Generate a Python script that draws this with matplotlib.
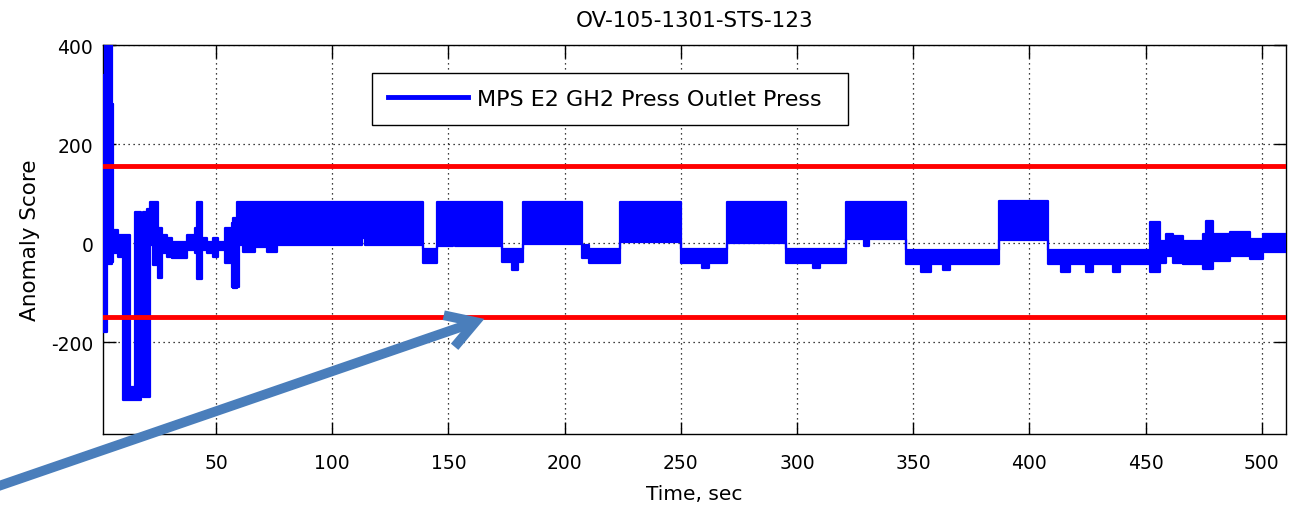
import matplotlib
matplotlib.use("Agg")
import matplotlib.pyplot as plt
from matplotlib.lines import Line2D
from matplotlib.patches import FancyArrowPatch

# ---------------- data ----------------
title = "OV-105-1301-STS-123"
series_name = "MPS E2 GH2 Press Outlet Press"

# start time of each step segment of the anomaly-score envelope
seg_t = [1.4, 2.2, 3.3, 5.1, 5.6, 8.0, 10.1, 13.0, 15.2, 17.6, 18.7, 20.2,
         21.6, 23.0, 25.2, 26.6, 28.8, 30.9, 37.4, 41.0, 41.7, 43.9, 46.0,
         48.8, 51.0, 53.9, 56.7, 57.4, 58.9, 60.0, 61.7, 66.8, 71.8, 76.1,
         112.8, 114.0, 138.9, 144.9, 151.8, 153.0, 172.9, 177.2, 180.0, 182.2,
         207.3, 210.5, 223.8, 250.3, 259.3, 262.2, 270.0, 295.4, 306.9, 309.8,
         321.0, 329.0, 331.0, 347.1, 353.5, 357.8, 362.8, 365.7, 387.0, 408.0,
         413.7, 417.3, 424.4, 427.3, 435.9, 438.8, 451.7, 456.0, 458.9, 461.7,
         466.0, 474.7, 476.1, 479.0, 486.2, 494.8, 500.5]
# upper edge of the score band in each segment
seg_upper = [339, 410, 410, 281, 26, 16, 16, -290, 64, 3, 64, 70,
             84, 84, 30, 16, 10, 3, 16, 30, 84, 10, 3,
             10, 3, 30, 40, 50, 84, 84, 84, 84, 84, 84,
             84, 84, -12, 84, 84, 84, -12, -12, -12, 84,
             -3, -12, 84, -12, -12, -12, 84, -12, -12, -12,
             84, 84, 84, -13, -13, -13, -13, -13, 85, -13,
             -13, -13, -13, -13, -13, -13, 42, 5, 18, 15,
             5, 18, 45, 18, 22, 8, 18]
# lower edge of the score band in each segment
seg_lower = [-179, -179, -42, -37, -20, -27, -317, -317, -317, -300, -310, -310,
             -3, -44, -71, -20, -27, -30, -13, -20, -72, -13, -20,
             -27, -13, -40, -88, -90, -88, -4, -17, -8, -17, -4,
             10, -4, -40, -5, 13, -5, -38, -55, -38, -2,
             -30, -39, 2, -39, -50, -39, 0, -40, -50, -40,
             8, -5, 8, -42, -59, -42, -55, -42, 6, -42,
             -59, -42, -59, -42, -59, -42, -59, -39, -25, -39,
             -42, -52, -52, -35, -25, -32, -18]
t_end = 510.4

upper_threshold = 155
lower_threshold = -150

x_ticks = [50, 100, 150, 200, 250, 300, 350, 400, 450, 500]
y_ticks = [-200, 0, 200, 400]
x_limits = (1.4, 510.4)
y_limits = (-385.5, 401.5)

# ---------------- figure ----------------
plt.rcParams['font.family'] = ['DejaVu Sans']
plt.rcParams['axes.unicode_minus'] = False
fig = plt.figure(figsize=(12.93, 5.10), dpi=100)
ax = fig.add_axes([103 / 1293, 1 - 435 / 510, 1183 / 1293, 389.5 / 510])

tx = seg_t + [t_end]
up = seg_upper + [seg_upper[-1]]
lo = seg_lower + [seg_lower[-1]]

ax.fill_between(tx, lo, up, step='post', color='blue', lw=0, zorder=3)
ax.step(tx, up, where='post', color='blue', lw=1.6, zorder=3)
ax.step(tx, lo, where='post', color='blue', lw=1.6, zorder=3)

ax.axhline(upper_threshold, color='red', lw=3.5, zorder=4)
ax.axhline(lower_threshold, color='red', lw=3.5, zorder=4)

ax.set_xlim(*x_limits)
ax.set_ylim(*y_limits)
ax.set_xticks(x_ticks)
ax.set_yticks(y_ticks)
ax.grid(True, color='black', linestyle=(0, (1, 3)), lw=0.9)
ax.tick_params(direction='in', length=9, width=1, top=True, right=True,
               labelsize=13.5, colors='black')
ax.tick_params(axis='x', pad=13.5)
ax.tick_params(axis='y', pad=7)
for s in ax.spines.values():
    s.set_linewidth(1.0)
    s.set_color('black')

ax.set_title(title, fontsize=15.5, pad=13)
ax.set_xlabel("Time, sec", fontsize=14.5, labelpad=9)
ax.set_ylabel("Anomaly Score", fontsize=15.5, labelpad=8)

handle = Line2D([], [], color='blue', lw=3.5)
leg = ax.legend([handle], [series_name], loc='upper left',
                bbox_to_anchor=(269 / 1183, 1 - 28.5 / 389.5, 476 / 1183, 0.0),
                mode='expand',
                borderaxespad=0, fontsize=16, handlelength=3.6,
                handletextpad=0.4, borderpad=0.72, fancybox=False,
                framealpha=1, edgecolor='black')
leg.get_frame().set_linewidth(1.0)

arrow = FancyArrowPatch((-10 / 1293, 1 - 490 / 510), (487 / 1293, 1 - 319 / 510),
                        transform=fig.transFigure,
                        arrowstyle='->,head_length=1.0,head_width=0.6',
                        mutation_scale=20, lw=7, color='#4a7ebb',
                        zorder=10, capstyle='butt', joinstyle='miter')
fig.add_artist(arrow)

fig.savefig("out.png", dpi=100)
